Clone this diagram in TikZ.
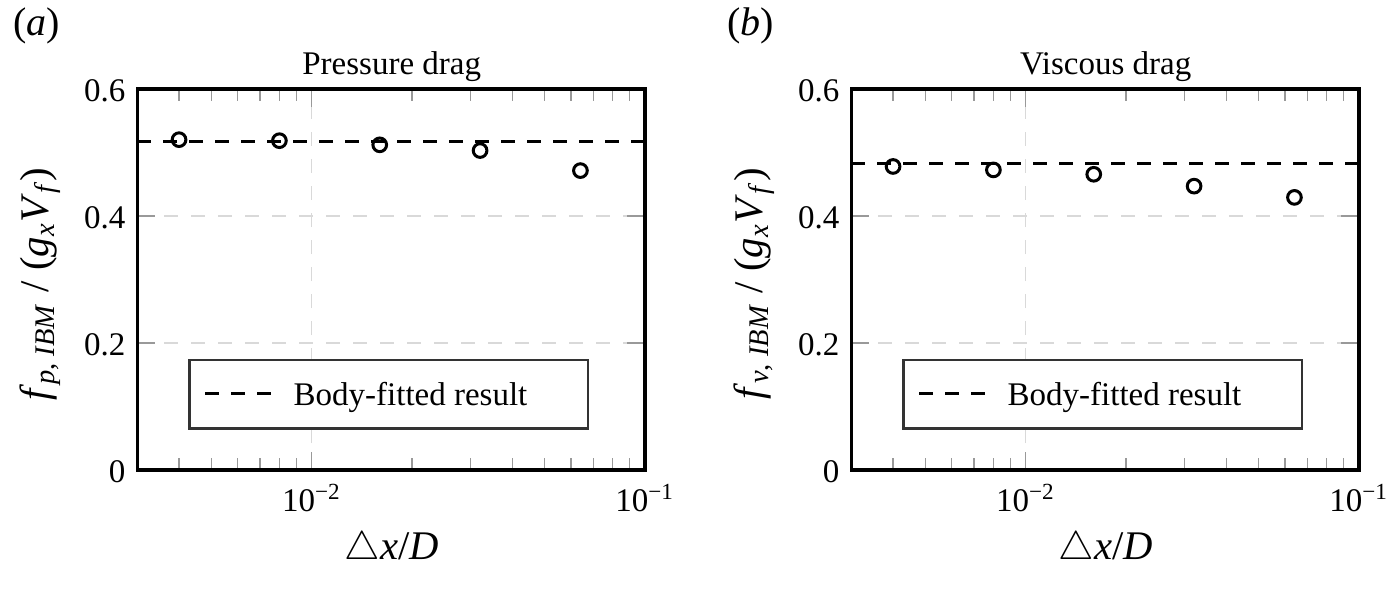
\documentclass[tikz,border=0pt]{standalone}
\usepackage{fontspec}
\setmainfont{Liberation Serif}
\tikzset{
  frameline/.style={draw=black, line width=1pt},
  gridline/.style={draw=black!15, line width=0.35pt, dash pattern=on 4.2pt off 3.9pt},
  tickmark/.style={draw=black!40, line width=0.4pt},
  refline/.style={draw=black, line width=0.9pt, dash pattern=on 4.2pt off 3.6pt},
  marker/.style={circle, draw=black, line width=0.9pt, minimum size=4.1pt, inner sep=0pt},
  legendbox/.style={draw=black!80, fill=white, line width=0.8pt, inner sep=0pt,
                    minimum width=119.6pt, minimum height=20.5pt},
  smalltext/.style={font=\fontsize{9.9}{11.9}\selectfont, inner sep=0pt},
  labeltext/.style={font=\fontsize{12.2}{14.6}\selectfont, inner sep=0pt},
  paneltext/.style={font=\fontsize{12}{14.4}\selectfont, inner sep=0pt},
}
% #1 x offset (px), #2 name prefix, #3 panel letter, #4 title, #5 subscript,
% #6 reference value, #7 data values
\newcommand\drawpanel[7]{%
  \begin{scope}[shift={(#1,0)}]
    \begin{scope}[shift={(311.7,470)}, x=100pt, y=190.5pt]
      \draw[gridline] (0,0) -- (0,0.6);
      \foreach \yv in {0.2,0.4} \draw[gridline] (-0.52288,\yv) -- (1,\yv);
      \foreach \k in {4,...,9} {
        \draw[tickmark] ({ln(\k)/ln(10)-1},0) -- ++(0,3.6pt);
        \draw[tickmark] ({ln(\k)/ln(10)-1},0.6) -- ++(0,-3.6pt);
      }
      \foreach \k in {2,...,9} {
        \draw[tickmark] ({ln(\k)/ln(10)},0) -- ++(0,3.6pt);
        \draw[tickmark] ({ln(\k)/ln(10)},0.6) -- ++(0,-3.6pt);
      }
      \draw[tickmark] (0,0) -- ++(0,5.4pt);
      \draw[tickmark] (0,0.6) -- ++(0,-5.4pt);
      \foreach \yv in {0.2,0.4} {
        \draw[tickmark] (-0.52288,\yv) -- ++(5.4pt,0);
        \draw[tickmark] (1,\yv) -- ++(-5.4pt,0);
      }
      \coordinate (#2refA) at (-0.52288,#6);
      \coordinate (#2refB) at (1,#6);
      \draw[refline] (#2refA) -- (#2refB);
      \foreach \v [count=\i] in {#7}
        \node[marker] (#2p\i) at ({-0.39794+0.30103*(\i-1)},\v) {};
      \draw[frameline] (-0.52288,0) rectangle (1,0.6);
    \end{scope}
    % legend
    \node[legendbox] (#2leg) at (388.65,394.15) {};
    \coordinate (#2legA) at (205,393);
    \coordinate (#2legB) at (272,393);
    \draw[refline] (#2legA) -- (#2legB);
    \node[smalltext, anchor=base west] (#2legtext) at (293,405) {Body-fitted result};
    % tick labels
    \node[smalltext, anchor=east] (#2y0) at (126,472) {0};
    \node[smalltext, anchor=east] (#2y2) at (126,345) {0.2};
    \node[smalltext, anchor=east] (#2y4) at (126,218) {0.4};
    \node[smalltext, anchor=east] (#2y6) at (126,91) {0.6};
    \node[smalltext, anchor=base] (#2xa) at (311.7,511.7) {10\textsuperscript{−2}};
    \node[smalltext, anchor=base] (#2xb) at (645,511.7) {10\textsuperscript{−1}};
    % titles and labels
    \node[smalltext, anchor=base] (#2title) at (391.7,75) {#4};
    \node[paneltext, anchor=base west] (#2panel) at (13,36) {(\textit{#3})};
    \node[labeltext, anchor=base] (#2xlabel) at (391.7,559) {$\triangle$\textit{x}/\textit{D}};
    \node[labeltext, anchor=base, rotate=90] (#2ylabel) at (48,284)
      {\textit{f}\textsubscript{\textit{#5}, \textit{IBM}} / (\textit{g}\textsubscript{\textit{x}}\textit{V}\textsubscript{\textit{f}})};
  \end{scope}}

\begin{document}
\begin{tikzpicture}[x=0.3pt, y=-0.3pt]
  \useasboundingbox (0,0) rectangle (1394,598);
  \fill[white] (0,0) rectangle (1394,598);
  \drawpanel{0}{A}{a}{Pressure drag}{p}{0.5175}{0.5202,0.5186,0.5121,0.5031,0.4715}
  \drawpanel{714}{B}{b}{Viscous drag}{v}{0.4831}{0.478,0.4726,0.4657,0.447,0.4293}
\end{tikzpicture}
\end{document}
